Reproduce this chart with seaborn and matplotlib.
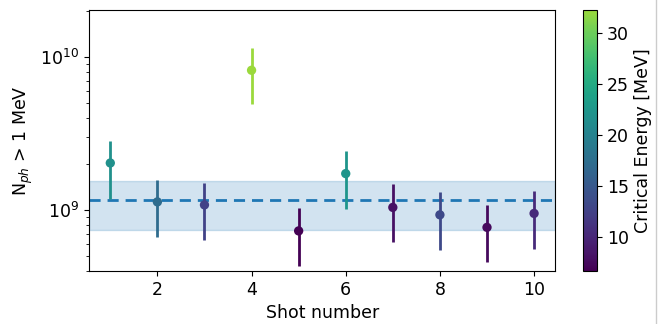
import numpy as np
import pandas as pd
import seaborn as sns
import matplotlib.pyplot as plt
from matplotlib.colors import Normalize, ListedColormap
from matplotlib.cm import ScalarMappable
from matplotlib.lines import Line2D

# values
shots = [1, 2, 3, 4, 5, 6, 7, 8, 9, 10]
n_photons = [2.03e9, 1.13e9, 1.08e9, 8.2e9, 7.3e8, 1.73e9, 1.04e9, 9.3e8, 7.7e8, 9.5e8]
err_upper = [2.82e9, 1.57e9, 1.50e9, 1.15e10, 1.03e9, 2.43e9, 1.47e9, 1.31e9, 1.08e9, 1.33e9]
err_lower = [1.18e9, 6.7e8, 6.4e8, 4.9e9, 4.3e8, 1.02e9, 6.15e8, 5.5e8, 4.6e8, 5.6e8]
crit_energy = [21.8, 17.2, 12.7, 32.3, 6.7, 22.4, 8.2, 13.3, 7.6, 10.3]
mean_n = 1.157e9
band_low, band_high = 7.4e8, 1.55e9
e_min, e_max = 6.7, 32.3

df = pd.DataFrame({"shot": shots, "n": n_photons, "E": crit_energy,
                   "lo": err_lower, "hi": err_upper})

plt.rcParams["font.size"] = 12.5

fig = plt.figure(figsize=(6.65, 3.24), dpi=100)
ax = fig.add_axes([0.134, 0.164, 0.701, 0.805])
cax = fig.add_axes([0.877, 0.164, 0.021, 0.805])

norm = Normalize(vmin=e_min, vmax=e_max)
# viridis cut before the yellow end, as in the reference
cmap = ListedColormap(plt.get_cmap("viridis")(np.linspace(0, 0.85, 256)))

# shaded band and mean line
ax.axhspan(band_low, band_high, color="C0", alpha=0.2)
ax.axhline(mean_n, color="C0", ls="--", lw=2, dashes=(4, 2.5))

# error bars coloured by critical energy
for _, r in df.iterrows():
    ax.errorbar(r["shot"], r["n"], yerr=[[r["n"] - r["lo"]], [r["hi"] - r["n"]]],
                fmt="none", ecolor=cmap(norm(r["E"])), elinewidth=2, capsize=0)

sns.scatterplot(data=df, x="shot", y="n", hue="E", palette=cmap,
                hue_norm=norm, s=45, edgecolor="none", legend=False, ax=ax, zorder=3)

ax.set_yscale("log")
ax.set_xlim(0.55, 10.45)
ax.set_ylim(4.0e8, 2.03e10)
ax.set_xticks([2, 4, 6, 8, 10])
ax.set_xlabel("Shot number")
ax.set_ylabel(r"N$_{ph}$ > 1 MeV")

cb = fig.colorbar(ScalarMappable(norm=norm, cmap=cmap), cax=cax)
cb.set_ticks([10, 15, 20, 25, 30])
cb.set_label("Critical Energy [MeV]")

# thin grey border line on the right edge
fig.add_artist(Line2D([0.986, 0.986], [0, 1], color="#cccccc", lw=1,
                      transform=fig.transFigure))

fig.savefig("out.png", dpi=100)
